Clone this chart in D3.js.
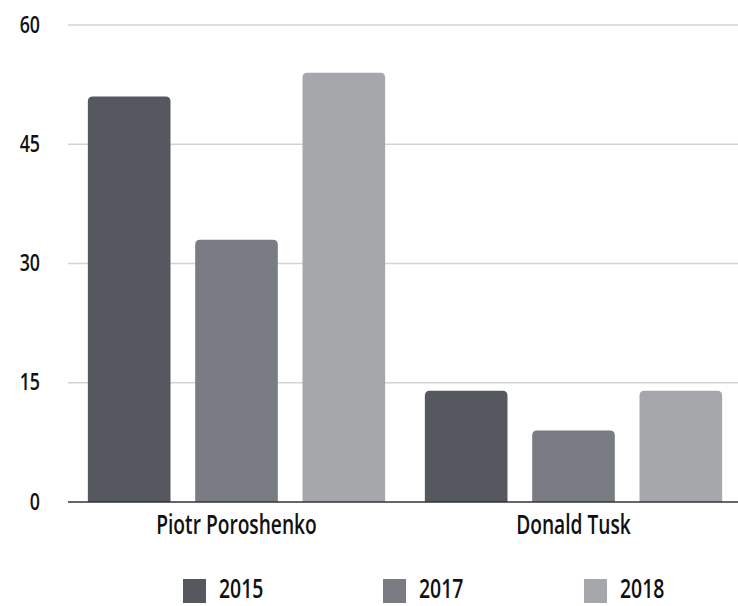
<!DOCTYPE html>
<html>
<head>
<meta charset="utf-8">
<script src="https://cdn.jsdelivr.net/npm/d3@7"></script>
<style>
  html, body { margin: 0; padding: 0; background: #fff; }
  svg { display: block; }
  text { font-family: "Open Sans", sans-serif; font-weight: 600; fill: #111; }
</style>
</head>
<body>
<svg id="chart" width="738" height="606"></svg>
<script>
// Survey results by person and year
const categories = ["Piotr Poroshenko", "Donald Tusk"];
const years = ["2015", "2017", "2018"];
const values2015 = [51, 14];
const values2017 = [33, 9];
const values2018 = [54, 14];
const yTicks = [0, 15, 30, 45, 60];
const colors = ["#55585f", "#797c83", "#a5a7aa"];

const seriesValues = [values2015, values2017, values2018];
const rows = categories.map((c, i) => ({
  category: c,
  bars: years.map((y, j) => ({ year: y, value: seriesValues[j][i] }))
}));

const svg = d3.select("#chart");
const margin = { left: 68, right: -4, top: 25, bottom: 104 };
const W = 738, H = 606;

// condensed look: squeeze each label horizontally
function condense(sel, factor) {
  sel.each(function () {
    const w = this.getComputedTextLength();
    d3.select(this)
      .attr("textLength", w * factor)
      .attr("lengthAdjust", "spacingAndGlyphs");
  });
}

const x0 = d3.scaleBand()
  .domain(categories)
  .range([margin.left, W - margin.right])
  .paddingInner(0)
  .paddingOuter(0);

const x1 = d3.scaleBand()
  .domain(years)
  .range([0, x0.bandwidth()])
  .paddingInner(0.23)
  .paddingOuter(0.185);

const y = d3.scaleLinear()
  .domain([0, 60])
  .range([H - margin.bottom, margin.top]);

const color = d3.scaleOrdinal().domain(years).range(colors);

// gridlines
svg.append("g")
  .selectAll("line")
  .data(yTicks.filter(t => t > 0))
  .join("line")
  .attr("x1", margin.left)
  .attr("x2", W)
  .attr("y1", d => y(d))
  .attr("y2", d => y(d))
  .attr("stroke", "#d3d3d3")
  .attr("stroke-width", 1.5);

// y-axis labels
const yAxis = d3.axisLeft(y).tickValues(yTicks).tickSize(0).tickPadding(0);
const gy = svg.append("g")
  .attr("transform", `translate(40,0)`)
  .call(yAxis);
gy.select(".domain").remove();
gy.selectAll("text")
  .attr("font-size", 24)
  .attr("font-family", "Open Sans, sans-serif")
  .attr("font-weight", 600)
  .attr("fill", "#111")
  .attr("dy", "0.3em")
  .call(condense, 0.74);

// rounded-top bar path
function topRounded(x, yTop, w, h, r) {
  r = Math.min(r, h, w / 2);
  return `M${x},${yTop + h}V${yTop + r}Q${x},${yTop} ${x + r},${yTop}` +
         `H${x + w - r}Q${x + w},${yTop} ${x + w},${yTop + r}V${yTop + h}Z`;
}

const groups = svg.append("g")
  .selectAll("g")
  .data(rows)
  .join("g")
  .attr("transform", d => `translate(${x0(d.category)},0)`);

groups.selectAll("path")
  .data(d => d.bars)
  .join("path")
  .attr("fill", d => color(d.year))
  .attr("d", d => topRounded(x1(d.year), y(d.value), x1.bandwidth(), y(0) - y(d.value), 5));

// baseline
svg.append("line")
  .attr("x1", margin.left)
  .attr("x2", W)
  .attr("y1", y(0))
  .attr("y2", y(0))
  .attr("stroke", "#333")
  .attr("stroke-width", 1.6);

// category labels
const xAxis = d3.axisBottom(x0).tickSize(0).tickPadding(0);
const gx = svg.append("g")
  .attr("transform", `translate(0,${y(0) + 32})`)
  .call(xAxis);
gx.select(".domain").remove();
gx.selectAll("text")
  .attr("font-size", 27)
  .attr("font-family", "Open Sans, sans-serif")
  .attr("font-weight", 600)
  .attr("fill", "#111")
  .attr("dy", 0)
  .call(condense, 0.71);

// legend
const legendX = [183, 383, 584];
const legend = svg.append("g")
  .selectAll("g")
  .data(years)
  .join("g")
  .attr("transform", (d, i) => `translate(${legendX[i]},579)`);

legend.append("rect")
  .attr("width", 23)
  .attr("height", 24)
  .attr("fill", d => color(d));

legend.append("text")
  .attr("x", 36)
  .attr("y", 18.5)
  .attr("font-size", 27)
  .text(d => d)
  .call(condense, 0.72);
</script>
</body>
</html>
